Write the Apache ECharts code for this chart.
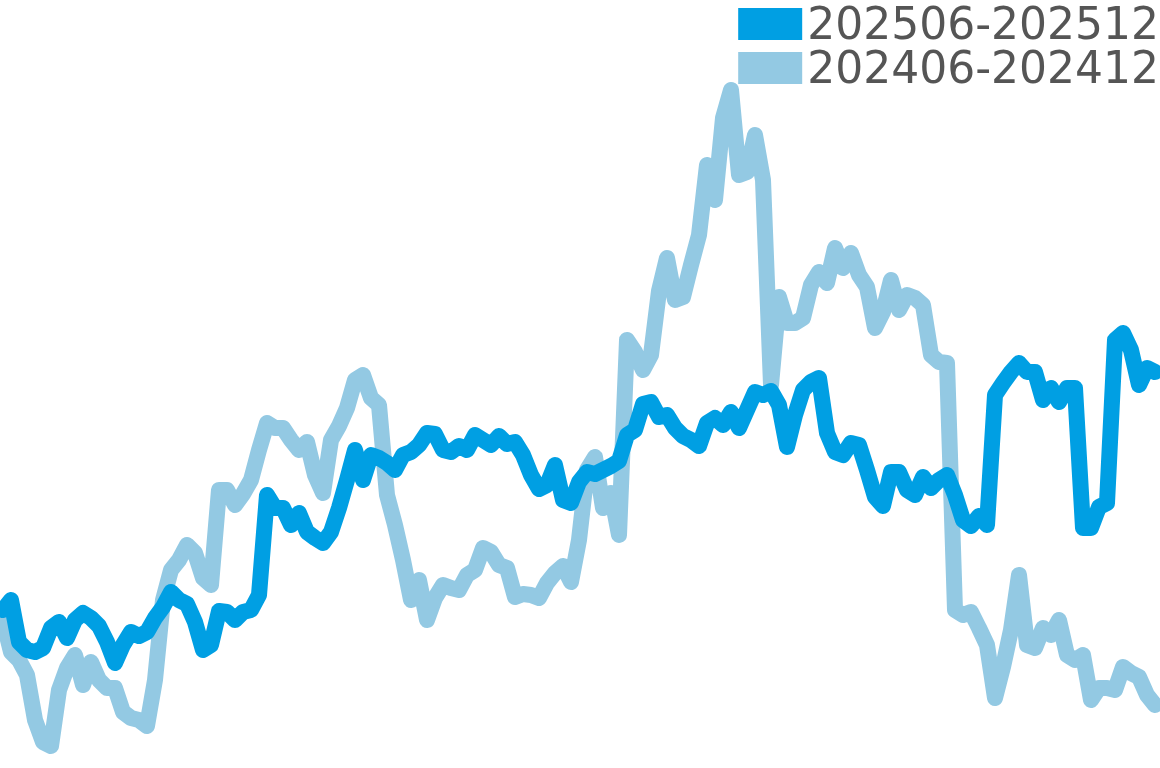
<!DOCTYPE html>
<html>
<head>
<meta charset="utf-8">
<script src="https://cdn.jsdelivr.net/npm/echarts@6/dist/echarts.min.js"></script>
<style>
html,body{margin:0;padding:0;background:#fff;}
#chart{width:1160px;height:768px;}
</style>
</head>
<body>
<div id="chart"></div>
<script>
// Series names (legend)
const seriesNames = ['202506-202512', '202406-202412'];

// Estimated values (relative index level, higher = up)
const recent = [158,168,126,118,116,120,140,146,130,148,155,150,142,126,105,123,136,132,136,150,161,176,168,164,146,118,123,157,156,148,156,158,173,273,260,260,243,255,236,230,225,236,260,288,318,288,313,310,305,298,313,316,323,335,334,318,316,322,318,333,328,323,332,324,326,313,293,279,283,303,268,265,286,296,294,298,302,307,333,338,364,366,351,353,340,332,328,322,345,350,343,356,340,358,376,373,377,363,321,353,378,386,390,335,316,313,325,323,298,271,262,296,296,278,273,291,280,288,293,273,248,242,252,243,373,385,396,405,396,396,368,380,366,380,380,240,240,261,265,428,435,418,383,400,396];
const lastYear = [148,116,108,93,48,26,22,78,100,113,83,106,88,80,80,56,50,48,42,88,168,198,208,223,215,190,183,278,278,263,274,288,318,345,340,340,328,318,326,293,275,328,342,360,388,393,370,363,273,243,208,168,188,148,170,183,180,178,193,198,220,216,203,200,171,174,173,170,185,195,202,186,228,298,311,260,275,233,428,416,398,413,477,510,468,471,503,533,603,568,650,678,593,596,633,588,383,471,445,445,450,483,496,485,520,500,515,493,481,440,456,488,458,473,470,463,413,406,405,158,153,156,140,123,70,101,138,193,123,120,140,133,148,113,108,113,68,80,80,78,101,95,91,73,63];

const categories = recent.map((_, i) => 'D' + (i + 1));

const chart = echarts.init(document.getElementById('chart'), null, {renderer: 'canvas'});
chart.setOption({
  animation: false,
  backgroundColor: '#ffffff',
  legend: {
    orient: 'vertical',
    right: 1,
    top: 6,
    padding: 0,
    itemGap: 0,
    itemWidth: 64,
    itemHeight: 40,
    icon: 'path://M0,0L64,0L64,32L0,32Z M0,40L1,40',
    textStyle: {fontSize: 44, color: '#555555', fontFamily: 'DejaVu Sans'},
    data: seriesNames
  },
  grid: {left: 3, right: 5, top: 0, bottom: 0, containLabel: false},
  xAxis: {
    type: 'category',
    data: categories,
    boundaryGap: false,
    show: false
  },
  yAxis: {
    type: 'value',
    min: 0,
    max: 768,
    show: false
  },
  series: [
    {
      name: seriesNames[0],
      type: 'line',
      data: recent,
      symbol: 'none',
      z: 3,
      color: '#009FE3',
      lineStyle: {width: 16, color: '#009FE3', cap: 'round', join: 'round'}
    },
    {
      name: seriesNames[1],
      type: 'line',
      data: lastYear,
      symbol: 'none',
      z: 2,
      color: '#93C9E3',
      lineStyle: {width: 16, color: '#93C9E3', cap: 'round', join: 'round'}
    }
  ]
});
</script>
</body>
</html>
